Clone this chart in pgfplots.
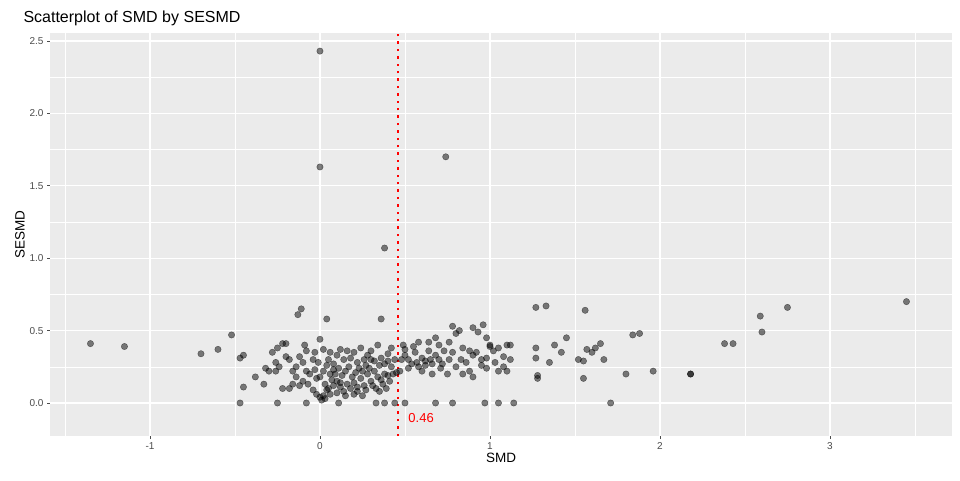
\documentclass[border=0pt]{standalone}
\usepackage{pgfplots}
\pgfplotsset{compat=1.18}
\usepackage{fontspec}
\setmainfont{Liberation Sans}
\definecolor{panel}{HTML}{EBEBEB}
\begin{document}
\begin{tikzpicture}[x=1pt,y=1pt]
\path[use as bounding box,fill=white] (0,0) rectangle (960,480);
\begin{axis}[at={(50pt,44pt)},anchor=south west,scale only axis,width=902pt,height=403pt,
 xmin=-1.588,xmax=3.718,ymin=-0.228,ymax=2.555,
 axis background/.style={fill=panel},axis line style={draw=none},
 xtick={-1,0,1,2,3},ytick={0,0.5,1,1.5,2,2.5},
 yticklabels={0.0,0.5,1.0,1.5,2.0,2.5},
 minor xtick={-1.5,-0.5,0.5,1.5,2.5,3.5},minor ytick={0.25,0.75,1.25,1.75,2.25},
 grid=both,major grid style={white,line width=1.1pt},minor grid style={white,line width=0.5pt},
 major tick length=3pt,minor tick length=0pt,tick style={gray!60!black,line width=0.8pt},
 tick align=outside,xtick pos=bottom,ytick pos=left,
 ticklabel style={font=\fontsize{10}{12}\selectfont,text=black!70},
 /pgf/number format/assume math mode=true,
 xlabel={SMD},ylabel={SESMD},label style={font=\fontsize{13.5}{15}\selectfont},
 xlabel style={yshift=3pt},ylabel style={yshift=-2pt},
 title={Scatterplot of SMD by SESMD},title style={font=\fontsize{16}{18}\selectfont,anchor=south west,at={(0,1)},xshift=-30pt,yshift=-2pt},
]
\addplot[only marks,mark=*,mark size=3.2pt,mark options={fill=black,fill opacity=0.5,draw=black,draw opacity=0.5,line width=0.4pt}] coordinates {
(0,2.43)(0,1.63)(0.74,1.70)(0.38,1.07)(-1.35,0.41)(-1.15,0.39)(-0.7,0.34)(-0.6,0.37)(-0.52,0.47)(-0.47,0.31)(-0.45,0.33)(-0.45,0.11)(-0.47,0.0)(-0.38,0.18)(-0.32,0.24)(-0.33,0.13)(-0.13,0.61)(-0.11,0.65)(0.04,0.58)(0.36,0.58)(1.27,0.66)(1.33,0.67)(1.56,0.64)(2.59,0.60)(2.75,0.66)(3.45,0.70)(2.6,0.49)(2.38,0.41)(2.43,0.41)(2.18,0.20)(2.18,0.20)(1.96,0.22)(1.88,0.48)(1.84,0.47)(1.80,0.20)(1.71,0.0)(1.67,0.30)(1.65,0.41)(1.62,0.38)(1.60,0.35)(1.57,0.37)(1.55,0.17)(1.55,0.29)(1.52,0.30)(1.45,0.45)(1.42,0.35)(1.38,0.40)(1.35,0.28)(1.27,0.38)(1.27,0.31)(1.28,0.19)(1.28,0.17)(1.14,0.0)(1.05,0.0)(0.97,0.0)(0.78,0.0)(0.68,0.0)(0.5,0.0)(0.44,0.0)(0.38,0.0)(0.33,0.0)(0.11,0.0)(-0.08,0.0)(-0.25,0.0)
(0.8,0.48)(0.78,0.53)(0.82,0.5)(0.9,0.52)(0.93,0.49)(0.96,0.54)(0.98,0.45)(0.76,0.42)(0.84,0.38)(0.88,0.36)(0.92,0.35)(0.95,0.3)(1.0,0.4)(1.02,0.36)(1.05,0.38)(1.08,0.32)(1.1,0.4)(1.12,0.4)(1.12,0.3)(1.1,0.22)(1.08,0.25)(1.03,0.28)(0.98,0.24)(0.95,0.26)(0.9,0.33)(0.86,0.28)(0.83,0.3)(0.8,0.25)(0.78,0.35)(0.76,0.3)(0.72,0.27)(0.7,0.3)(0.7,0.4)(0.68,0.45)(0.66,0.2)(0.64,0.36)(0.62,0.29)(0.6,0.31)(0.58,0.42)(0.56,0.35)(0.54,0.27)(0.52,0.24)(0.5,0.33)(0.5,0.37)(0.49,0.4)(0.48,0.3)(0.47,0.22)(0.6,0.22)(0.62,0.26)(0.55,0.39)(0.58,0.25)(0.64,0.42)(0.68,0.33)(0.71,0.24)(0.73,0.36)(0.75,0.2)(0.65,0.3)(0.66,0.27)(0.52,0.3)(0.57,0.28)(1.0,0.39)(0.98,0.31)(0.88,0.22)(0.9,0.18)(0.84,0.2)(1.05,0.22)
(0.0,0.44)(0.02,0.37)(0.05,0.3)(0.06,0.35)(0.08,0.27)(0.1,0.33)(0.12,0.37)(0.14,0.3)(0.16,0.36)(0.18,0.31)(0.2,0.35)(0.22,0.28)(0.24,0.38)(0.26,0.3)(0.28,0.33)(0.3,0.36)(0.32,0.29)(0.34,0.4)(0.36,0.31)(0.38,0.27)(0.4,0.34)(0.42,0.25)(0.44,0.3)(0.45,0.21)(0.43,0.2)(0.4,0.19)(0.38,0.2)(0.36,0.16)(0.34,0.18)(0.32,0.22)(0.3,0.15)(0.28,0.2)(0.26,0.12)(0.24,0.17)(0.22,0.11)(0.2,0.14)(0.18,0.1)(0.16,0.13)(0.14,0.08)(0.12,0.11)(0.1,0.07)(0.08,0.12)(0.06,0.06)(0.04,0.09)(0.02,0.05)(0.0,0.04)(-0.02,0.06)(0.01,0.02)(0.03,0.03)(0.05,0.1)(0.07,0.16)(0.09,0.2)(0.11,0.24)(0.13,0.19)(0.15,0.22)(0.17,0.25)(0.19,0.18)(0.21,0.21)(0.23,0.24)(0.25,0.22)(0.27,0.26)(0.29,0.24)(0.31,0.12)(0.33,0.1)(0.35,0.08)(0.37,0.13)(0.39,0.1)(0.41,0.15)(0.2,0.06)(0.22,0.08)(0.25,0.05)(0.27,0.09)(0.15,0.05)(0.1,0.15)(0.12,0.14)(0.03,0.13)(0.0,0.18)(0.02,0.22)(0.04,0.26)(-0.01,0.28)(0.06,0.2)(0.08,0.23)(0.3,0.3)(0.35,0.26)(0.4,0.29)(0.42,0.38)
(-0.28,0.35)(-0.25,0.38)(-0.22,0.41)(-0.2,0.41)(-0.26,0.28)(-0.24,0.25)(-0.2,0.32)(-0.18,0.3)(-0.16,0.22)(-0.14,0.25)(-0.12,0.32)(-0.1,0.28)(-0.08,0.36)(-0.06,0.2)(-0.04,0.3)(-0.02,0.17)(-0.1,0.15)(-0.14,0.18)(-0.18,0.1)(-0.22,0.1)(-0.26,0.22)(-0.3,0.22)(-0.12,0.12)(-0.07,0.13)(-0.04,0.09)(-0.09,0.4)(-0.03,0.35)(-0.16,0.13)(-0.03,0.23)(-0.08,0.22)
};
\addplot[red,line width=2.4pt,dash pattern=on 2.4pt off 5pt] coordinates {(0.46,-0.228)(0.46,2.555)};
\node[red,anchor=west,font=\fontsize{13}{15}\selectfont] at (axis cs:0.5,-0.105) {0.46};
\end{axis}
\end{tikzpicture}
\end{document}
